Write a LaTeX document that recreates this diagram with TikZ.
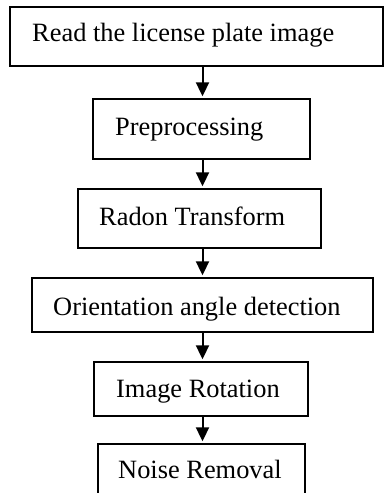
\documentclass[tikz,border=0pt]{standalone}
\usepackage{fontspec}
\setmainfont{Liberation Serif}
\usetikzlibrary{arrows.meta,fit}
\begin{document}
\begin{tikzpicture}[x=1pt,y=-1pt,
  stepbox/.style={draw=black,line width=1.4pt,fill=white,inner sep=0pt},
  steplabel/.style={anchor=base west,inner sep=0pt,font=\fontsize{26.4}{30}\selectfont},
  flow/.style={line width=2pt,-{Triangle[length=14pt,width=13pt]},shorten >=2pt}]
\useasboundingbox (0,0) rectangle (385,493);
\clip (0,0) rectangle (385,493);
% process boxes, each fitted to its two corners
\node[stepbox,fit={(10,7) (383,66)}]   (b1) {};
\node[stepbox,fit={(93,99) (310,159)}] (b2) {};
\node[stepbox,fit={(78,189) (321,248)}] (b3) {};
\node[stepbox,fit={(32,278) (373,332)}] (b4) {};
\node[stepbox,fit={(94,362) (308,416)}] (b5) {};
\node[stepbox,fit={(98,444) (305,530)}] (b6) {};
% box texts
\node[steplabel] (t1) at (32,41.7) {Read the license plate image};
\node[steplabel] (t2) at (115,135) {Preprocessing};
\node[steplabel] (t3) at (99,225)  {Radon Transform};
\node[steplabel] (t4) at (53,315)  {Orientation angle detection};
\node[steplabel] (t5) at (116,397) {Image Rotation};
\node[steplabel] (t6) at (118,478) {Noise Removal};
% arrows run down a common vertical line
\coordinate (ax) at (202.5,0);
\draw[flow] (b1.south -| ax) -- (b2.north -| ax);
\draw[flow] (b2.south -| ax) -- (b3.north -| ax);
\draw[flow] (b3.south -| ax) -- (b4.north -| ax);
\draw[flow] (b4.south -| ax) -- (b5.north -| ax);
\draw[flow] (b5.south -| ax) -- (b6.north -| ax);
\end{tikzpicture}
\end{document}
